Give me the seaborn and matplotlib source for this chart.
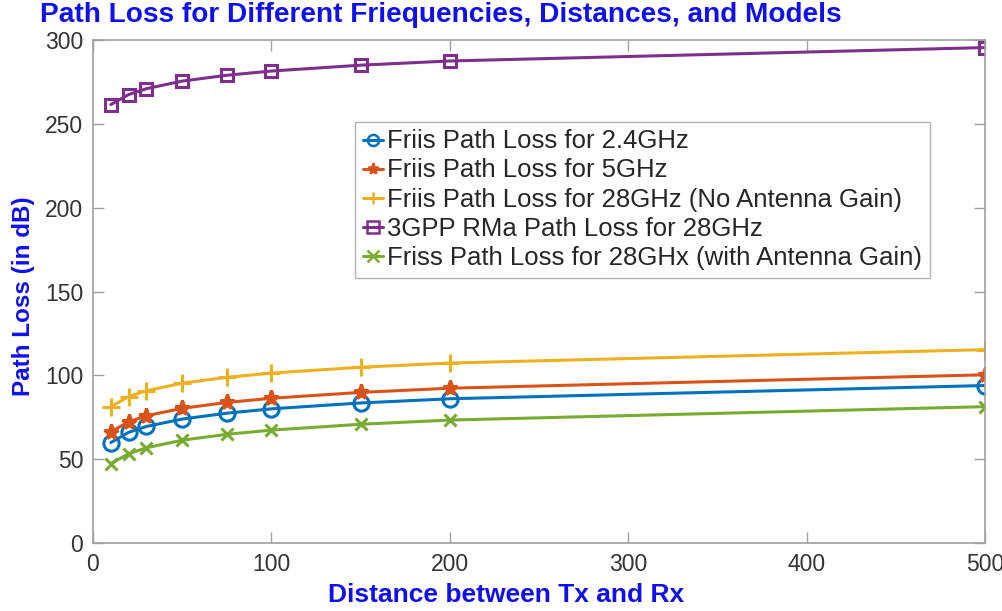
import numpy as np
import pandas as pd
import seaborn as sns
import matplotlib
matplotlib.use("Agg")
import matplotlib.pyplot as plt

distance = [10, 20, 30, 50, 75, 100, 150, 200, 500]
friis_24 = [60.0, 66.1, 69.6, 74.0, 77.5, 80.1, 83.6, 86.1, 94.0]
friis_5 = [66.4, 72.4, 76.0, 80.4, 83.9, 86.4, 89.9, 92.4, 100.4]
friis_28 = [81.4, 87.4, 90.9, 95.4, 98.9, 101.4, 104.9, 107.4, 115.4]
rma_28 = [261.5, 267.5, 271.0, 275.5, 279.0, 281.5, 285.0, 287.5, 295.5]
friis_28_gain = [47.4, 53.4, 56.9, 61.4, 64.9, 67.4, 70.9, 73.4, 81.4]

labels = ["Friis Path Loss for 2.4GHz",
          "Friis Path Loss for 5GHz",
          "Friis Path Loss for 28GHz (No Antenna Gain)",
          "3GPP RMa Path Loss for 28GHz",
          "Friss Path Loss for 28GHx (with Antenna Gain)"]
series = [friis_24, friis_5, friis_28, rma_28, friis_28_gain]
colors = ["#0072BD", "#D95319", "#EDB120", "#7E2F8E", "#77AC30"]
markers = ["o", "*", "+", "s", "x"]
msizes = [11, 11, 13, 9, 9]

sns.set_style("white")
plt.rcParams['font.family'] = ['Liberation Sans', 'DejaVu Sans']

fig = plt.figure(figsize=(10.03, 6.11), dpi=100)
ax = fig.add_axes([0.0927, 0.111, 0.8893, 0.8235])

for lab, ys, c, m, ms in zip(labels, series, colors, markers, msizes):
    df = pd.DataFrame({"d": distance, "pl": ys})
    sns.lineplot(data=df, x="d", y="pl", ax=ax, color=c, marker=m,
                 markersize=ms, linewidth=2.2, label=lab,
                 markerfacecolor="none" if m in ("o", "s") else c,
                 markeredgecolor=c, markeredgewidth=2.2)

ax.set_xlim(0, 500)
ax.set_ylim(0, 300)
ax.set_xticks([0, 100, 200, 300, 400, 500])
ax.set_yticks([0, 50, 100, 150, 200, 250, 300])
ax.set_xlabel("")
ax.set_ylabel("")
for s in ax.spines.values():
    s.set_visible(True)
    s.set_color("#a0a0a0")
    s.set_linewidth(1.2)
ax.tick_params(direction="in", length=8, width=1, color="#a0a0a0",
               labelsize=16.5, labelcolor="#333333", top=True, right=True,
               bottom=True, left=True, pad=7)

leg = ax.legend(loc="upper left", bbox_to_anchor=(0.294, 0.838),
                fontsize=18.5, frameon=True, fancybox=False,
                handlelength=0.8, handletextpad=0.15, borderpad=0.3,
                labelspacing=0.2, borderaxespad=0, handleheight=0.6)
leg.get_frame().set_edgecolor("#a0a0a0")
leg.get_frame().set_linewidth(1.0)
for h in leg.legend_handles:
    h.set_markersize(8)
    h.set_markeredgewidth(1.8)

fig.text(0.04, 0.975, "Path Loss for Different Friequencies, Distances, and Models",
         color="#1010ee", fontsize=20.2, fontweight="bold", ha="left", va="center")
fig.text(0.505, 0.026, "Distance between Tx and Rx", color="#1010ee",
         fontsize=19, fontweight="bold", ha="center", va="center")
fig.text(0.023, 0.516, "Path Loss (in dB)", color="#1010ee", fontsize=17.5,
         fontweight="bold", ha="center", va="center", rotation=90)

fig.savefig("out.png", dpi=100)
